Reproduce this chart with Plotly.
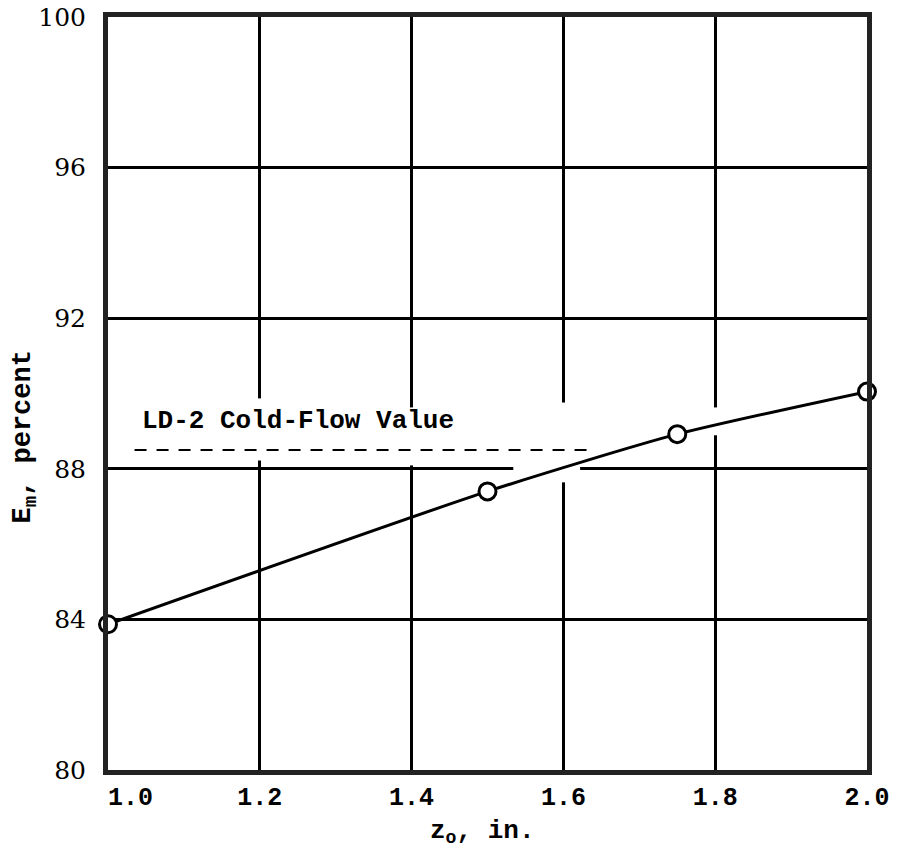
import plotly.graph_objects as go

# Data
z0 = [1.0, 1.5, 1.75, 2.0]
em = [83.87, 87.4, 88.92, 90.05]

cold_flow_value = 88.5
cold_flow_x = [1.035, 1.643]
cold_flow_label = "LD-2 Cold-Flow Value"

x_ticks = [1.0, 1.2, 1.4, 1.6, 1.8, 2.0]
x_tick_labels = ["\u00a0\u00a0\u00a01.0", "1.2", "1.4", "1.6", "1.8", "2.0"]
y_ticks = [80, 84, 88, 92, 96, 100]
y_tick_labels = ["80", "84", "88", "92", "96", "100"]

# Gaps in the grid lines (drafting breaks around text and curve)
v_gaps = [(1.2, 88.22, 89.87), (1.4, 88.09, 89.63), (1.6, 87.64, 89.76), (1.8, 88.89, 89.63)]
h_gaps = [(88, 1.534, 1.622)]

mono = "Liberation Mono"
serif = "DejaVu Serif"

fig = go.Figure()

fig.add_trace(go.Scatter(
    x=cold_flow_x, y=[cold_flow_value, cold_flow_value], mode="lines",
    line=dict(color="black", width=2, dash="12px,10px"), hoverinfo="skip",
))

fig.add_trace(go.Scatter(
    x=z0, y=em, mode="lines+markers",
    line=dict(color="black", width=3, shape="spline", smoothing=0.6),
    marker=dict(symbol="circle", size=17, color="white", line=dict(color="black", width=3)),
    cliponaxis=False,
))

shapes = []
for xv, y0, y1 in v_gaps:
    shapes.append(dict(type="rect", xref="x", yref="y", x0=xv - 0.006, x1=xv + 0.006,
                       y0=y0, y1=y1, fillcolor="white", line=dict(width=0), layer="between"))
for yv, x0, x1 in h_gaps:
    shapes.append(dict(type="rect", xref="x", yref="y", x0=x0, x1=x1,
                       y0=yv - 0.12, y1=yv + 0.12, fillcolor="white", line=dict(width=0), layer="between"))

fig.update_layout(
    width=899, height=858,
    margin=dict(l=108, r=32, t=17, b=88, autoexpand=False),
    paper_bgcolor="white", plot_bgcolor="white",
    showlegend=False,
    shapes=shapes,
    xaxis=dict(
        range=[1.0, 2.0], tickvals=x_ticks, ticktext=x_tick_labels,
        showgrid=True, gridcolor="black", gridwidth=2.5,
        showline=True, linecolor="#222", linewidth=5, mirror=True,
        ticks="", zeroline=False, ticklabelstandoff=0, automargin=False,
        tickfont=dict(family=mono, size=25, color="black", weight="bold"),
    ),
    yaxis=dict(
        range=[80, 100], tickvals=y_ticks, ticktext=y_tick_labels,
        showgrid=True, gridcolor="black", gridwidth=2.5,
        showline=True, linecolor="#222", linewidth=5, mirror=True,
        ticks="", zeroline=False, ticklabelstandoff=12, automargin=False,
        tickfont=dict(family=serif, size=25, color="black"),
    ),
    annotations=[
        dict(text=cold_flow_label, xref="x", yref="y", x=1.042, y=89.26,
             xanchor="left", yanchor="middle", showarrow=False,
             font=dict(family=mono, size=26, color="black", weight="bold")),
        dict(text="E<sub>m</sub>, percent", xref="paper", yref="paper", x=-0.109, y=0.442,
             xanchor="center", yanchor="middle", textangle=-90, showarrow=False,
             font=dict(family=mono, size=27, color="black", weight="bold")),
        dict(text="z<sub>o</sub>, in.", xref="paper", yref="paper", x=0.493, y=-0.082,
             xanchor="center", yanchor="middle", showarrow=False,
             font=dict(family=mono, size=26, color="black", weight="bold")),
    ],
)

fig.write_html("out.html", config={"displayModeBar": False},
               post_script="document.body.style.margin='0';")
